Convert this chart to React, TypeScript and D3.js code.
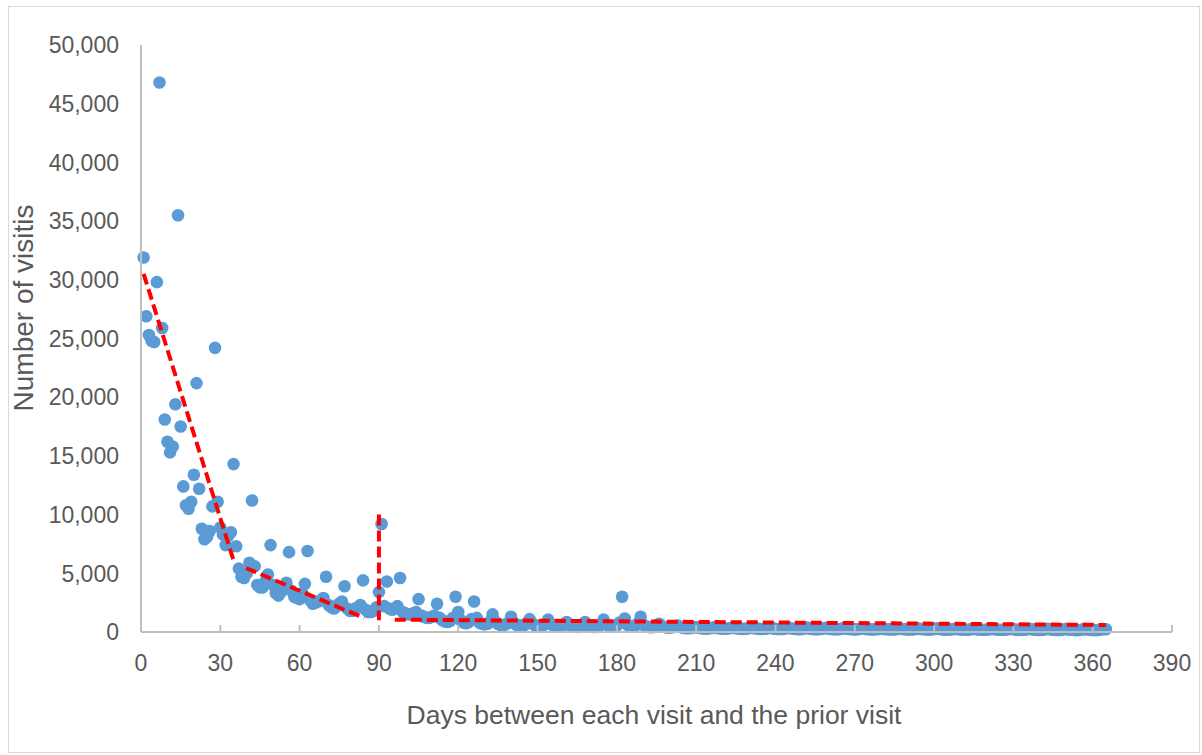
import * as d3 from "d3";
import React, { useRef, useEffect } from "react";

// visits per day, index 0 = day 1 ... index 364 = day 365
const visits = [
  // days 1-35
  31900, 26900, 25300, 24800, 24700, 29800, 46800,
  25900, 18100, 16200, 15300, 15800, 19400, 35500,
  17500, 12400, 10800, 10500, 11100, 13400, 21200,
  12200, 8800, 7900, 8100, 8600, 10700, 24200,
  11100, 8900, 8300, 7400, 8200, 8500, 14300,
  // days 36-70
  7300, 5400, 4700, 4600, 5000, 5900, 11200,
  5600, 4000, 3800, 3800, 4300, 4900, 7400,
  4000, 3300, 3100, 3400, 3800, 4200, 6800,
  3500, 3000, 2900, 2800, 3300, 4100, 6900,
  2700, 2400, 2500, 2600, 2700, 2900, 4700,
  // days 71-105
  2300, 2100, 2000, 2200, 2400, 2600, 3900,
  2000, 1800, 1800, 2000, 2100, 2300, 4400,
  1900, 1700, 1700, 1800, 2100, 3400, 9200,
  2200, 4300, 2000, 1900, 2000, 2200, 4600,
  1700, 1600, 1500, 1500, 1600, 1700, 2800,
  // days 106-140
  1400, 1300, 1200, 1200, 1300, 1400, 2400,
  1200, 1000, 900, 850, 950, 1200, 3000,
  1700, 1000, 800, 750, 850, 1100, 2600,
  1200, 800, 700, 650, 700, 900, 1500,
  900, 700, 600, 580, 650, 800, 1300,
  // days 141-175
  800, 620, 560, 540, 600, 750, 1100,
  750, 580, 520, 500, 550, 700, 1050,
  680, 540, 480, 470, 520, 650, 850,
  620, 500, 450, 430, 480, 600, 850,
  600, 480, 430, 420, 470, 650, 1050,
  // days 176-210
  650, 520, 460, 470, 560, 800, 3000,
  1150, 620, 500, 480, 560, 750, 1300,
  620, 480, 420, 400, 440, 540, 700,
  500, 420, 380, 370, 400, 470, 550,
  420, 360, 330, 320, 340, 380, 430,
  // days 211-245
  360, 320, 300, 290, 320, 350, 420,
  340, 310, 290, 280, 300, 340, 410,
  330, 300, 270, 270, 290, 330, 400,
  320, 290, 270, 260, 280, 310, 390,
  310, 280, 260, 250, 270, 310, 380,
  // days 246-280
  300, 270, 250, 240, 260, 300, 370,
  290, 260, 240, 240, 250, 290, 360,
  280, 250, 240, 230, 240, 280, 350,
  280, 250, 230, 220, 240, 270, 340,
  270, 240, 220, 220, 230, 260, 330,
  // days 281-315
  260, 240, 220, 210, 220, 260, 320,
  260, 230, 210, 210, 220, 250, 320,
  250, 230, 210, 200, 210, 250, 310,
  250, 220, 200, 200, 210, 240, 300,
  240, 220, 200, 190, 200, 240, 300,
  // days 316-350
  240, 210, 190, 190, 200, 230, 290,
  230, 210, 190, 180, 190, 230, 290,
  230, 200, 180, 180, 190, 220, 280,
  220, 200, 180, 170, 180, 220, 280,
  220, 190, 170, 170, 180, 210, 270,
  // days 351-365
  210, 190, 170, 160, 170, 210, 270,
  210, 180, 170, 160, 170, 200, 260,
  240,
];

// red dashed segments drawn over the scatter: [day, visits] pairs
const trendSegments = [
  [[1, 30500], [35, 6100]],
  [[39.7, 5450], [84.4, 1190]],
  [[90, 10000], [90, 1000]],
  [[96, 1050], [365, 600]],
];

const xTicks = [0, 30, 60, 90, 120, 150, 180, 210, 240, 270, 300, 330, 360, 390];
const yTicks = [0, 5000, 10000, 15000, 20000, 25000, 30000, 35000, 40000, 45000, 50000];

const xTitle = "Days between each visit and the prior visit";
const yTitle = "Number of visitis";

export default function App() {
  const ref = useRef(null);
  const width = 1202;
  const height = 755;

  useEffect(() => {
    const svg = d3.select(ref.current);
    svg.selectAll("*").remove();

    const x = d3.scaleLinear().domain([0, 390]).range([141, 1172]);
    const y = d3.scaleLinear().domain([0, 50000]).range([632, 45]);
    const font = "'Liberation Sans', Arial, sans-serif";
    const grey = "#595959";

    // chart border
    svg
      .append("rect")
      .attr("x", 8.5)
      .attr("y", 6.5)
      .attr("width", 1191)
      .attr("height", 746)
      .attr("fill", "white")
      .attr("stroke", "#d9d9d9")
      .attr("stroke-width", 1);

    // points
    svg
      .append("g")
      .selectAll("circle")
      .data(visits)
      .enter()
      .append("circle")
      .attr("cx", (d, i) => x(i + 1))
      .attr("cy", d => y(d))
      .attr("r", 6.3)
      .attr("fill", "#5b9bd5");

    // axes
    const axis = svg.append("g").attr("stroke", "#bfbfbf").attr("stroke-width", 2);
    axis
      .append("line")
      .attr("x1", x(0))
      .attr("x2", x(390))
      .attr("y1", y(0))
      .attr("y2", y(0));
    axis
      .append("line")
      .attr("x1", x(0))
      .attr("x2", x(0))
      .attr("y1", y(0))
      .attr("y2", y(50000));
    axis
      .selectAll("line.tick")
      .data(xTicks.slice(1))
      .enter()
      .append("line")
      .attr("class", "tick")
      .attr("x1", d => x(d))
      .attr("x2", d => x(d))
      .attr("y1", y(0))
      .attr("y2", y(0) - 7);

    // tick labels
    svg
      .append("g")
      .selectAll("text")
      .data(xTicks)
      .enter()
      .append("text")
      .attr("x", d => x(d))
      .attr("y", 671)
      .attr("text-anchor", "middle")
      .attr("font-family", font)
      .attr("font-size", 23)
      .attr("fill", grey)
      .text(d => d);

    svg
      .append("g")
      .selectAll("text")
      .data(yTicks)
      .enter()
      .append("text")
      .attr("x", 119)
      .attr("y", d => y(d))
      .attr("dy", "0.36em")
      .attr("text-anchor", "end")
      .attr("font-family", font)
      .attr("font-size", 23)
      .attr("fill", grey)
      .text(d => d3.format(",")(d));

    // trend lines
    const line = d3
      .line()
      .x(d => x(d[0]))
      .y(d => y(d[1]));
    svg
      .append("g")
      .selectAll("path")
      .data(trendSegments)
      .enter()
      .append("path")
      .attr("d", d => line(d))
      .attr("fill", "none")
      .attr("stroke", "#ff0000")
      .attr("stroke-width", 4)
      .attr("stroke-dasharray", "11,5");

    // axis titles
    svg
      .append("text")
      .attr("x", 654)
      .attr("y", 724)
      .attr("text-anchor", "middle")
      .attr("font-family", font)
      .attr("font-size", 26.5)
      .attr("fill", grey)
      .text(xTitle);

    svg
      .append("text")
      .attr("transform", "translate(33,308) rotate(-90)")
      .attr("text-anchor", "middle")
      .attr("font-family", font)
      .attr("font-size", 28)
      .attr("fill", grey)
      .text(yTitle);
  }, []);

  return (
    <div className="chart">
      <svg
        ref={ref}
        width={width}
        height={height}
        style={{ position: "absolute", left: 0, top: 0 }}
      ></svg>
    </div>
  );
}
